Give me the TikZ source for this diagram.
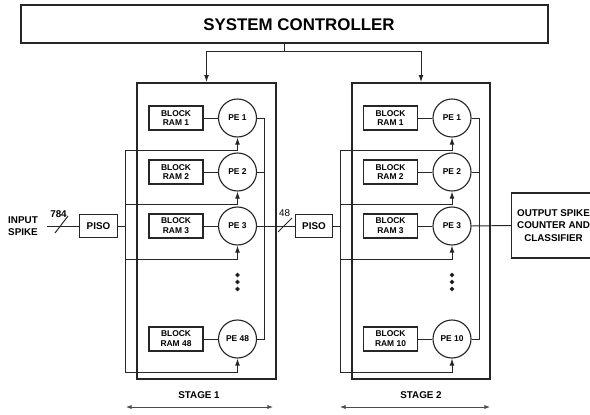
\documentclass[tikz,border=0pt]{standalone}
\usepackage{fontspec}
\setmainfont{Liberation Sans}
\usetikzlibrary{arrows.meta}

\tikzset{
	bigbox/.style={draw,line width=1.3pt,inner sep=0pt},
	ram/.style={draw,line width=.8pt,minimum width=1.35cm,minimum height=.6cm,inner sep=0pt,align=center,font=\bfseries\fontsize{6}{7}\selectfont},
	pe/.style={draw,circle,line width=.8pt,minimum size=.95cm,inner sep=0pt,font=\bfseries\fontsize{6}{7}\selectfont},
	piso/.style={draw,line width=.8pt,minimum width=.94cm,minimum height=.56cm,inner sep=0pt,font=\bfseries\fontsize{7}{8}\selectfont},
	lbl/.style={inner sep=0pt,align=center,font=\bfseries\fontsize{7}{8.7}\selectfont},
}

\begin{document}
\begin{tikzpicture}[x=.025cm,y=-.025cm,line width=.7pt,draw=black!85,>={Latex[length=5pt,width=3.5pt]}]
	\useasboundingbox (0,0) rectangle (590,414);

	\node[bigbox,minimum width=13.175cm,minimum height=.95cm] (ctrl) at (284.5,24) {};
	\node[inner sep=0pt,font=\bfseries\fontsize{12}{14}\selectfont] (ctrltext) at (299,24.5) {SYSTEM CONTROLLER};
	\node[bigbox,minimum width=3.475cm,minimum height=7.4cm] (stage1) at (206.5,231) {};
	\node[bigbox,minimum width=3.45cm,minimum height=7.4cm] (stage2) at (421,231) {};

	\coordinate (split) at (284.5,51);
	\draw (ctrl.south) -- (split);
	\draw[->] (split) -| (stage1.north);
	\draw[->] (split) -| (stage2.north);

	% stage 1
	\node[ram] (ram1a) at (176,118) {BLOCK\\RAM 1};
	\node[ram] (ram2a) at (176,172) {BLOCK\\RAM 2};
	\node[ram] (ram3a) at (176,226) {BLOCK\\RAM 3};
	\node[ram] (ram4a) at (176,339) {BLOCK\\RAM 48};
	\node[pe] (pe1a) at (237.5,118) {PE 1};
	\node[pe] (pe2a) at (237.5,172) {PE 2};
	\node[pe] (pe3a) at (237.5,226) {PE 3};
	\node[pe] (pe4a) at (237.5,339) {PE 48};
	\draw (ram1a) -- (pe1a);
	\draw (ram2a) -- (pe2a);
	\draw (ram3a) -- (pe3a);
	\draw (ram4a) -- (pe4a);
	\draw[fill] (237.5,275) circle (1.6);
	\draw[fill] (237.5,282) circle (1.6);
	\draw[fill] (237.5,289) circle (1.6);

	\coordinate (fbtopa) at (264,118);
	\coordinate (fbbota) at (264,339);
	\draw (pe1a.east) -- (fbtopa) -- (fbbota) -- (pe4a.east);
	\draw (pe2a.east) -- (pe2a.east -| fbtopa);

	\node[lbl] (inspike) at (23,226) {INPUT\\SPIKE};
	\coordinate (inwire) at (47,226);
	\node[piso] (piso1) at (98.5,226) {PISO};
	\draw (inwire) -- (piso1.west);
	\draw (55,233) -- (68,216);
	\node[lbl] (w784) at (58.5,214.5) {784};

	\coordinate (in1a) at (125,150);
	\coordinate (in2a) at (125,204);
	\coordinate (in3a) at (125,259);
	\coordinate (in4a) at (125,372);
	\draw (in1a) -- (in4a);
	\draw (piso1.east) -- (piso1.east -| in1a);
	\draw[->] (in1a) -| (pe1a.south);
	\draw[->] (in2a) -| (pe2a.south);
	\draw[->] (in3a) -| (pe3a.south);
	\draw[->] (in4a) -| (pe4a.south);

	% between the stages
	\node[piso] (piso2) at (314,226) {PISO};
	\draw (pe3a.east) -- (piso2.west);
	\draw (278,232) -- (292,218);
	\node[inner sep=0pt,font=\fontsize{7}{8}\selectfont] (w48) at (284.5,213.5) {48};

	% stage 2
	\node[ram] (ram1b) at (390.5,118) {BLOCK\\RAM 1};
	\node[ram] (ram2b) at (390.5,172) {BLOCK\\RAM 2};
	\node[ram] (ram3b) at (390.5,226) {BLOCK\\RAM 3};
	\node[ram] (ram4b) at (390.5,339) {BLOCK\\RAM 10};
	\node[pe] (pe1b) at (452,118) {PE 1};
	\node[pe] (pe2b) at (452,172) {PE 2};
	\node[pe] (pe3b) at (452,226) {PE 3};
	\node[pe] (pe4b) at (452,339) {PE 10};
	\draw (ram1b) -- (pe1b);
	\draw (ram2b) -- (pe2b);
	\draw (ram3b) -- (pe3b);
	\draw (ram4b) -- (pe4b);
	\draw[fill] (452,275) circle (1.6);
	\draw[fill] (452,282) circle (1.6);
	\draw[fill] (452,289) circle (1.6);

	\coordinate (fbtopb) at (479,118);
	\coordinate (fbbotb) at (479,339);
	\draw (pe1b.east) -- (fbtopb) -- (fbbotb) -- (pe4b.east);
	\draw (pe2b.east) -- (pe2b.east -| fbtopb);

	\coordinate (in1b) at (340,150);
	\coordinate (in2b) at (340,204);
	\coordinate (in3b) at (340,259);
	\coordinate (in4b) at (340,372);
	\draw (in1b) -- (in4b);
	\draw (piso2.east) -- (piso2.east -| in1b);
	\draw[->] (in1b) -| (pe1b.south);
	\draw[->] (in2b) -| (pe2b.south);
	\draw[->] (in3b) -| (pe3b.south);
	\draw[->] (in4b) -| (pe4b.south);

	\node[draw,line width=.8pt,minimum width=2.1cm,minimum height=1.625cm,inner sep=0pt,align=center,font=\bfseries\fontsize{7}{8.9}\selectfont] (out) at (553.5,225.5) {OUTPUT SPIKE\\COUNTER AND\\CLASSIFIER};
	\draw (pe3b.east) -- (out.west);

	% stage spans
	\node[lbl] (st1) at (199,395) {STAGE 1};
	\node[lbl] (st2) at (421,395) {STAGE 2};
	\coordinate (sp1l) at (126,407);
	\coordinate (sp1r) at (273,407);
	\coordinate (sp2l) at (340,407);
	\coordinate (sp2r) at (490,407);
	\draw[black!70,line width=.6pt,{Latex[length=4pt,width=3pt]}-{Latex[length=4pt,width=3pt]}] (sp1l) -- (sp1r);
	\draw[black!70,line width=.6pt,{Latex[length=4pt,width=3pt]}-{Latex[length=4pt,width=3pt]}] (sp2l) -- (sp2r);
\end{tikzpicture}
\end{document}
